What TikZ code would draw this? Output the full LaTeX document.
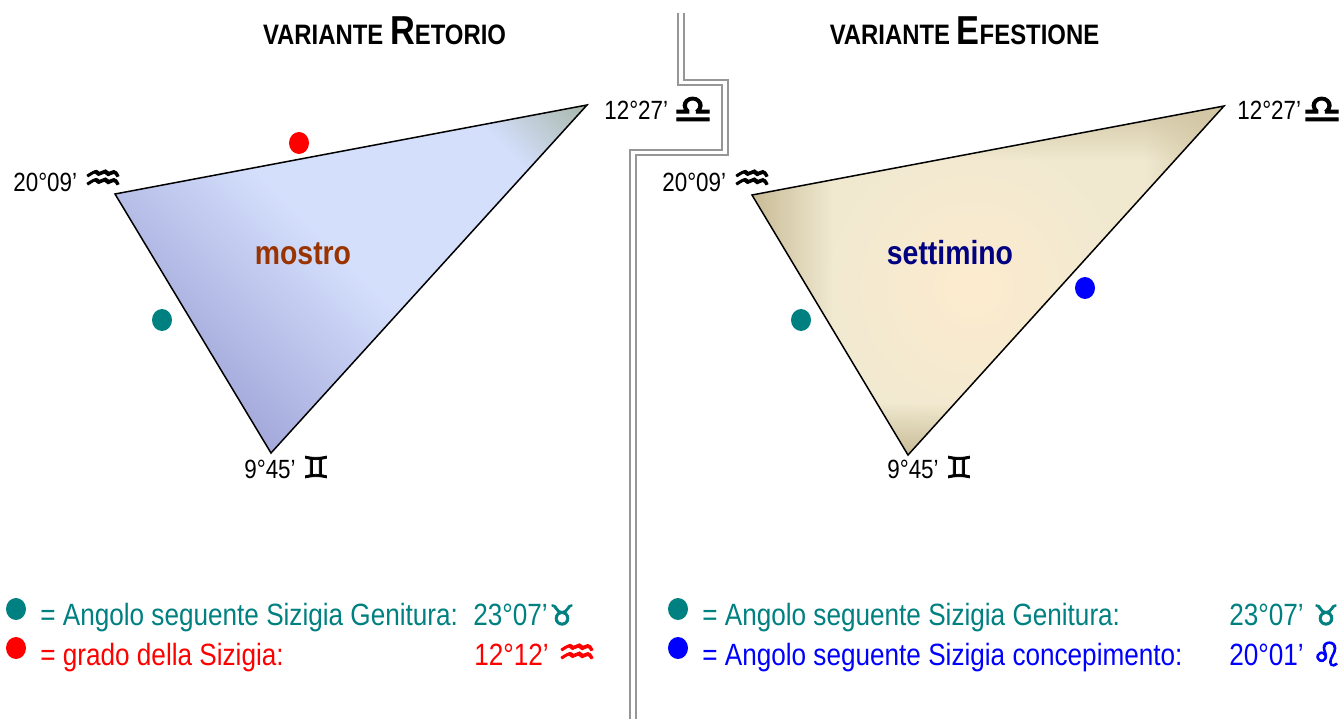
\documentclass[tikz,border=0pt]{standalone}
\usepackage{fontspec}
\usepackage{xcolor}
\usetikzlibrary{fadings}
\setmainfont[FakeStretch=0.85]{Liberation Sans}
\newfontfamily\zodiaco[FakeBold=2.5]{DejaVu Sans}

\definecolor{verdeacqua}{HTML}{008080}
\definecolor{mattone}{HTML}{993300}
\definecolor{blunotte}{HTML}{000080}
\definecolor{muro}{HTML}{969696}
\definecolor{azzurroscuro}{HTML}{A3A8DA}
\definecolor{azzurrochiaro}{HTML}{D4DFFC}
\definecolor{grigioverde}{HTML}{A9B9AD}
\definecolor{sabbia}{HTML}{C8BB96}
\definecolor{avorio}{HTML}{F0E9D0}
\definecolor{pesca}{HTML}{FDEBCF}

\pgfdeclarehorizontalshading{retorio}{100bp}{
  color(0bp)=(azzurroscuro); color(31bp)=(azzurroscuro);
  color(51bp)=(azzurrochiaro); color(71bp)=(azzurrochiaro);
  color(80bp)=(grigioverde); color(100bp)=(grigioverde)}

\newcommand{\titolo}[2]{\bfseries\fontsize{16}{18}\selectfont VARIANTE {\fontsize{23}{25}\selectfont #1}#2}
\newcommand{\acquario}{\scalebox{1}[0.8]{\zodiaco\fontsize{25}{26}\selectfont ♒}}
\newcommand{\bilancia}{\scalebox{1}[0.9]{\zodiaco\fontsize{25}{26}\selectfont ♎}}
\newcommand{\gemelli}{{\zodiaco\fontsize{17}{18}\selectfont ♊}}
\newcommand{\toro}{{\zodiaco\fontsize{16}{18}\selectfont ♉}}
\newcommand{\leone}{{\zodiaco\fontsize{19}{20}\selectfont ♌}}

\tikzset{
  grado/.style={anchor=base west,inner sep=0pt,font=\fontsize{15}{17}\selectfont},
  voce/.style={anchor=base west,inner sep=0pt,font=\fontsize{17.5}{19}\selectfont},
  glifo/.style={inner sep=0pt},
  nome/.style={anchor=base,inner sep=0pt,font=\bfseries\fontsize{19}{20}\selectfont}
}

\begin{document}
\begin{tikzpicture}[x=0.02cm,y=-0.02cm]
    \useasboundingbox (0,0) rectangle (1341,719);

    % Wall between the two variants
    \draw[muro,line width=0.04cm,double=white,double distance=0.065cm] (681,13) -- (681,82.5) -- (725,82.5) -- (725,152.5) -- (633,152.5) -- (633,719);

    % Titles
    \node[anchor=base,inner sep=0pt] (titoloretorio) at (384.5,45) {\titolo{R}{ETORIO}};
    \node[anchor=base,inner sep=0pt] (titoloefestione) at (964.5,45) {\titolo{E}{FESTIONE}};

    % Left triangle
    \begin{scope}
      \clip (115,194) -- (587,105) -- (271,453) -- cycle;
      \shade[shading=retorio,shading angle=45] (111,39) rectangle (591,519);
    \end{scope}
    \draw[line width=0.03cm] (115,194) -- (587,105) -- (271,453) -- cycle;

    % Right triangle
    \begin{scope}
      \clip (752,195) -- (1224,106) -- (908,455) -- cycle;
      \fill[avorio] (752,106) rectangle (1224,455);
      \shade[inner color=pesca,outer color=avorio] (973,288) circle (150);
      \fill[sabbia,path fading=east] (752,106) rectangle (832,455);
      \fill[sabbia!75!avorio,path fading=west] (1144,106) rectangle (1224,455);
      \fill[sabbia!75!avorio,path fading=south] (752,106) rectangle (1224,160);
      \fill[sabbia,path fading=north] (752,403) rectangle (1224,455);
    \end{scope}
    \draw[line width=0.03cm] (752,195) -- (1224,106) -- (908,455) -- cycle;

    % Names inside the triangles
    \node[nome,text=mattone] (mostro) at (303,265) {mostro};
    \node[nome,text=blunotte] (settimino) at (950,265) {settimino};

    % Degrees at the corners
    \node[grado] (aretorio) at (13,192) {20°09’};
    \node[glifo] (aqretorio) at (103,180) {\acquario};
    \node[grado] (bretorio) at (604,120) {12°27’};
    \node[glifo] (liretorio) at (693,110) {\bilancia};
    \node[grado] (cretorio) at (244,478) {9°45’};
    \node[glifo] (geretorio) at (316,467) {\gemelli};

    \node[grado] (aefestione) at (662,192) {20°09’};
    \node[glifo] (aqefestione) at (752,180) {\acquario};
    \node[grado] (befestione) at (1237,120) {12°27’};
    \node[glifo] (liefestione) at (1322,110) {\bilancia};
    \node[grado] (cefestione) at (887,478) {9°45’};
    \node[glifo] (geefestione) at (959,467) {\gemelli};

    % Dots on the triangles
    \fill[red] (299,143) ellipse (10 and 11);
    \fill[verdeacqua] (162,320) ellipse (10 and 11);
    \fill[verdeacqua] (801,320) ellipse (10 and 11);
    \fill[blue] (1085,288) ellipse (10 and 11);

    % Legend, left
    \fill[verdeacqua] (16,609) ellipse (10 and 11);
    \node[voce,text=verdeacqua] (genituraretorio) at (40,625) {= Angolo seguente Sizigia Genitura:};
    \node[voce,text=verdeacqua] (gradogenretorio) at (473,625) {23°07’};
    \node[glifo,text=verdeacqua] (tauretorio) at (562,615) {\toro};
    \fill[red] (16,648) ellipse (10 and 11);
    \node[voce,text=red] (sizigia) at (40,665) {= grado della Sizigia:};
    \node[voce,text=red] (gradosizigia) at (474,665) {12°12’};
    \node[glifo,text=red] (aqsizigia) at (577,654) {\acquario};

    % Legend, right
    \fill[verdeacqua] (678,609) ellipse (10 and 11);
    \node[voce,text=verdeacqua] (genituraefestione) at (702,625) {= Angolo seguente Sizigia Genitura:};
    \node[voce,text=verdeacqua] (gradogenefestione) at (1229,625) {23°07’};
    \node[glifo,text=verdeacqua] (tauefestione) at (1326,615) {\toro};
    \fill[blue] (678,648) ellipse (10 and 11);
    \node[voce,text=blue] (concepimento) at (702,665) {= Angolo seguente Sizigia concepimento:};
    \node[voce,text=blue] (gradoconcepimento) at (1229,665) {20°01’};
    \node[glifo,text=blue] (leone) at (1327,654) {\leone};
\end{tikzpicture}
\end{document}
